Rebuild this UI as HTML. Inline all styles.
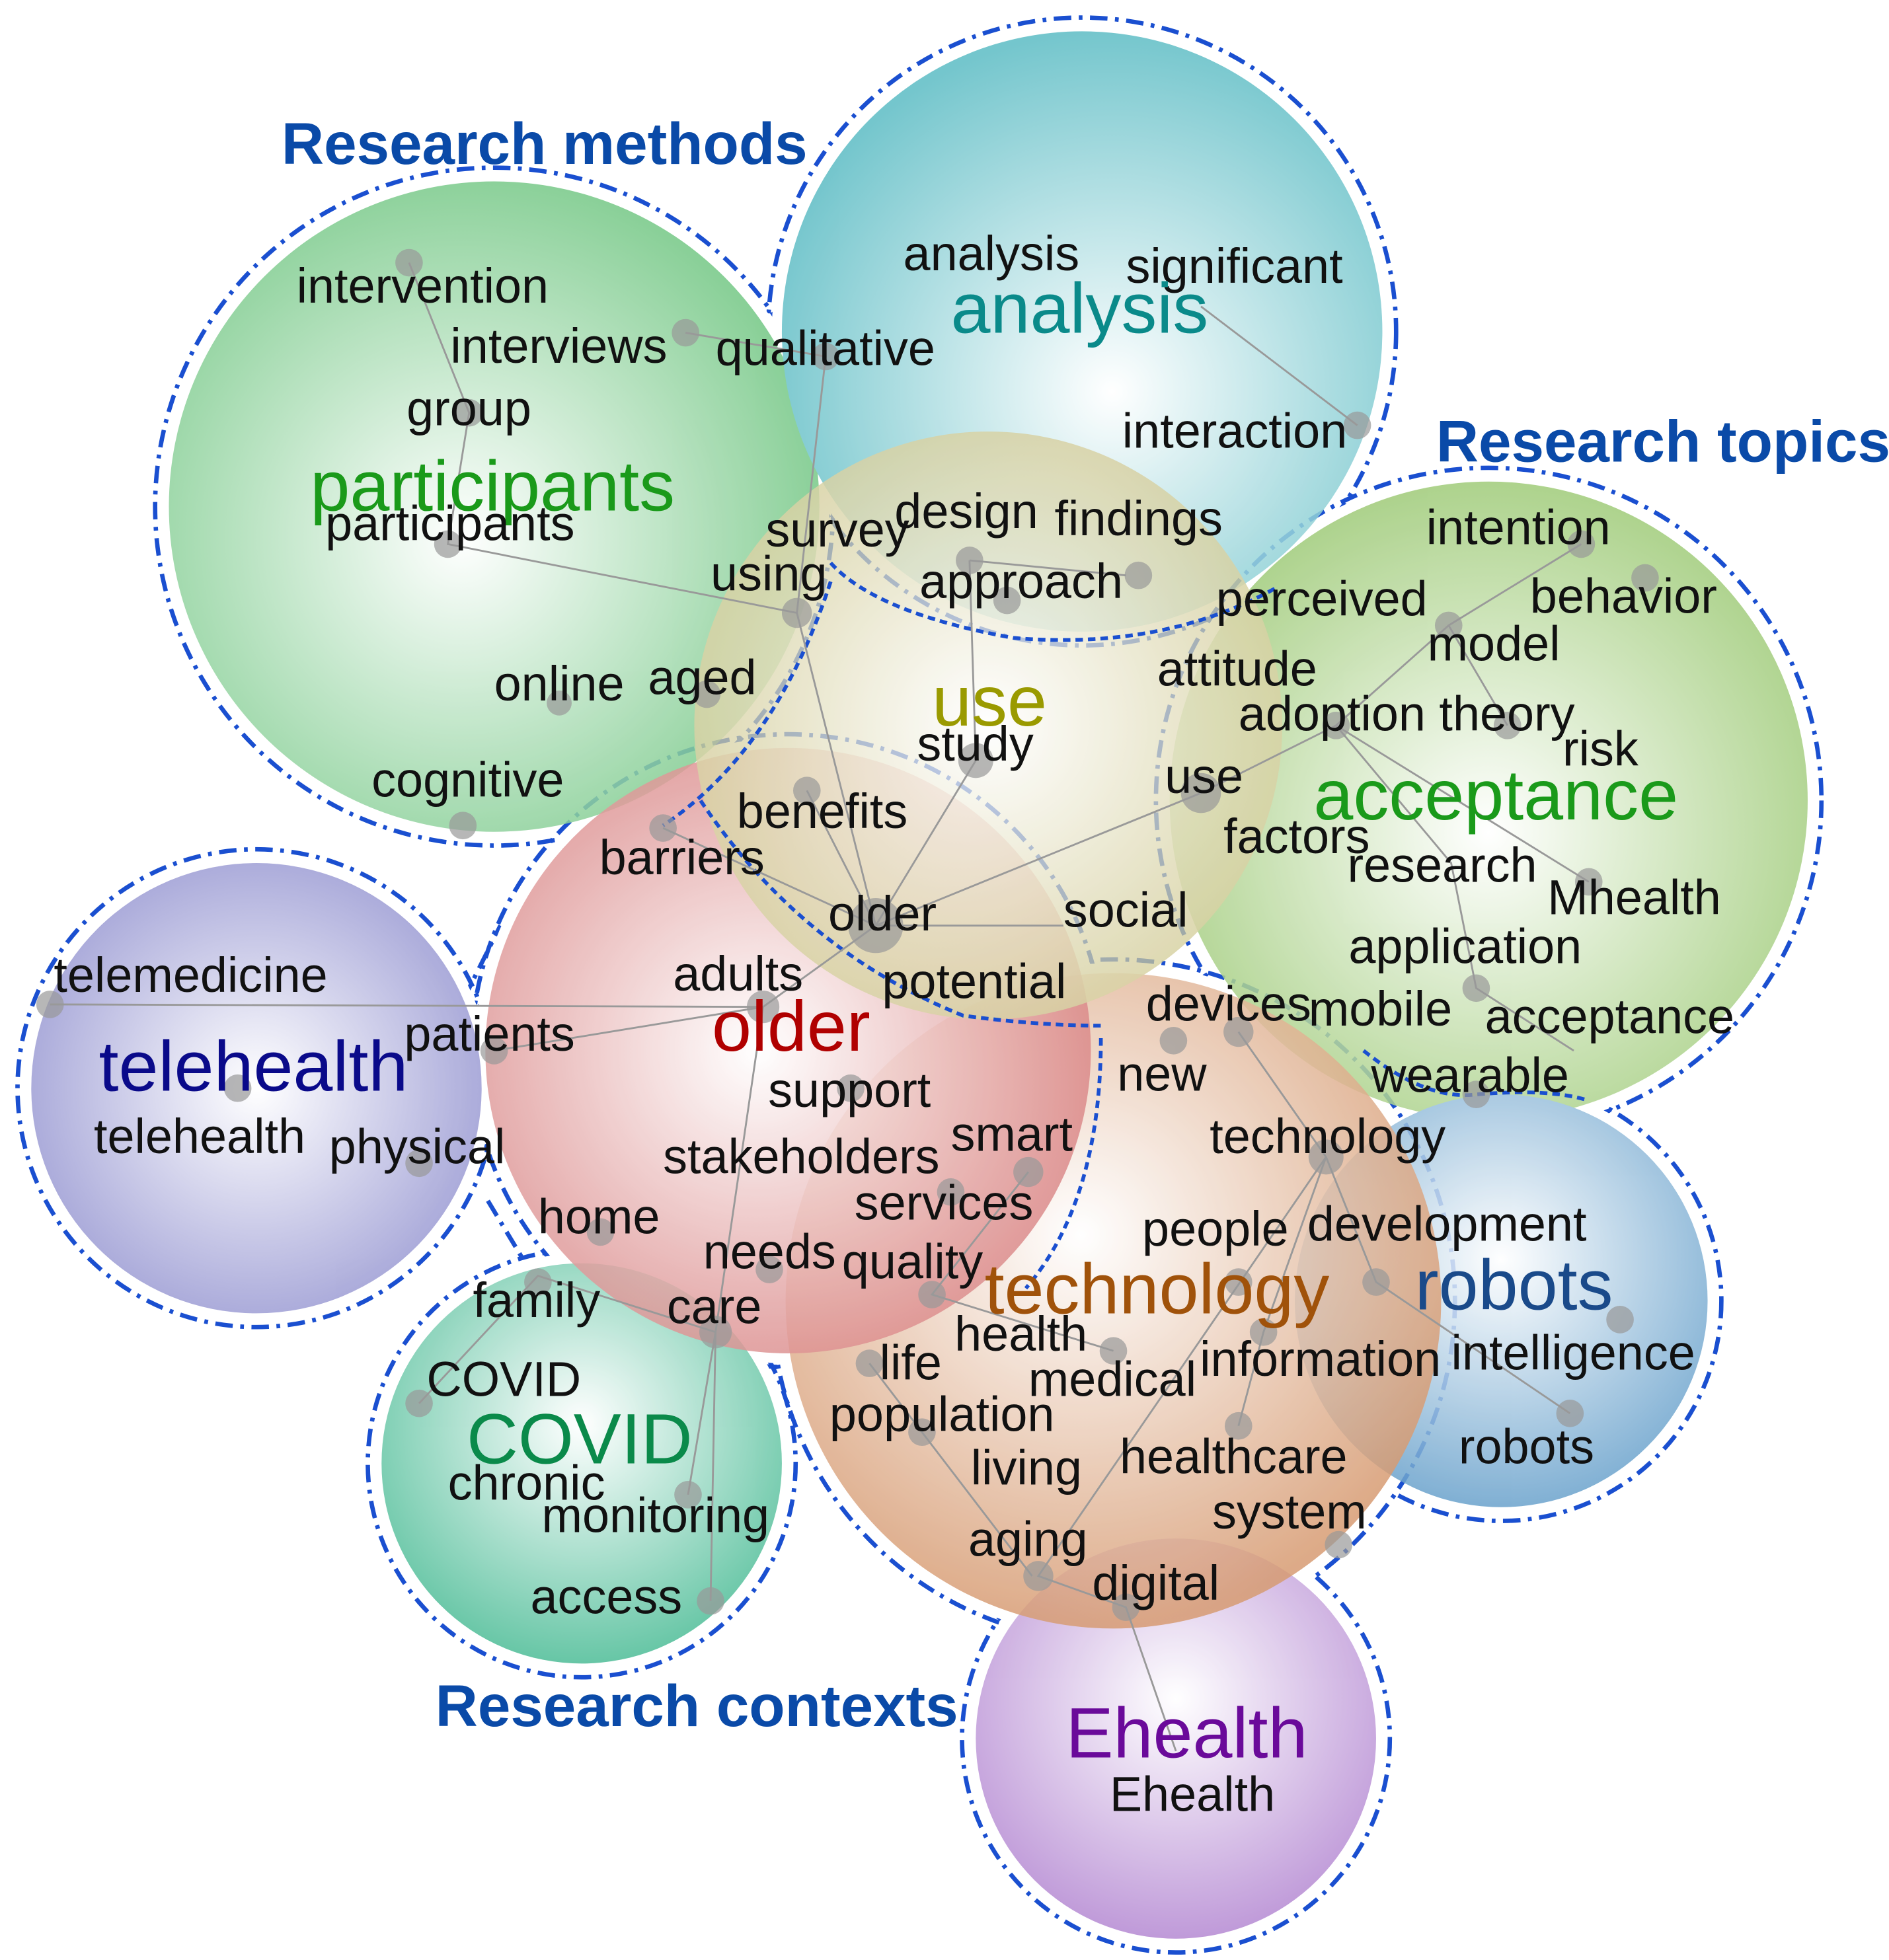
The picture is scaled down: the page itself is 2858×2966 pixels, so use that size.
<!DOCTYPE html>
<html><head><meta charset="utf-8"><style>
html,body{margin:0;padding:0;background:#fff}
svg{display:block}
text{font-family:"Liberation Sans",Arial,sans-serif;fill:#111}
.s{font-size:39px}
.b{font-size:57px}
.t{font-size:47px;font-weight:bold;fill:#0a4aa8}
</style></head><body>
<svg width="2858" height="2966" viewBox="0 0 1510 1567" xmlns="http://www.w3.org/2000/svg">
<defs>
<radialGradient id="gP" cx="0.45" cy="0.55" r="0.6"><stop offset="0" stop-color="#fff"/><stop offset="1" stop-color="#6cc47e"/></radialGradient>
<radialGradient id="gA" cx="0.55" cy="0.6" r="0.6"><stop offset="0" stop-color="#fff"/><stop offset="1" stop-color="#5cbcc4"/></radialGradient>
<radialGradient id="gU" cx="0.5" cy="0.5" r="0.6"><stop offset="0" stop-color="#fff"/><stop offset="1" stop-color="#c8c080"/></radialGradient>
<radialGradient id="gC" cx="0.5" cy="0.55" r="0.6"><stop offset="0" stop-color="#fff"/><stop offset="1" stop-color="#96c66c"/></radialGradient>
<radialGradient id="gO" cx="0.45" cy="0.5" r="0.6"><stop offset="0" stop-color="#fff"/><stop offset="1" stop-color="#d06868"/></radialGradient>
<radialGradient id="gT" cx="0.5" cy="0.5" r="0.6"><stop offset="0" stop-color="#fff"/><stop offset="1" stop-color="#8a8acc"/></radialGradient>
<radialGradient id="gX" cx="0.45" cy="0.4" r="0.6"><stop offset="0" stop-color="#fff"/><stop offset="1" stop-color="#d08a5a"/></radialGradient>
<radialGradient id="gR" cx="0.5" cy="0.4" r="0.6"><stop offset="0" stop-color="#fff"/><stop offset="1" stop-color="#6aa2cc"/></radialGradient>
<radialGradient id="gV" cx="0.5" cy="0.4" r="0.6"><stop offset="0" stop-color="#fff"/><stop offset="1" stop-color="#4cbc96"/></radialGradient>
<radialGradient id="gE" cx="0.5" cy="0.4" r="0.6"><stop offset="0" stop-color="#fff"/><stop offset="1" stop-color="#b488d2"/></radialGradient>
</defs>
<!-- group outlines: dashed halos, interior hidden by white fill -->
<g stroke="#1a4fd0" stroke-width="3.5" fill="none" stroke-dasharray="14,6,3,6">
<circle cx="395" cy="405" r="271"/><circle cx="865" cy="265" r="251"/>
</g>
<g fill="#fff"><circle cx="395" cy="405" r="268"/><circle cx="865" cy="265" r="248"/></g>
<g stroke="#1a4fd0" stroke-width="3.5" fill="none" stroke-dasharray="14,6,3,6">
<circle cx="1190" cy="640" r="266"/><circle cx="1200" cy="1040" r="176"/>
</g>
<g fill="#fff"><circle cx="1190" cy="640" r="263"/><circle cx="1200" cy="1040" r="173"/></g>
<g stroke="#1a4fd0" stroke-width="3.5" fill="none" stroke-dasharray="14,6,3,6">
<circle cx="205" cy="870" r="191"/><circle cx="630" cy="840" r="253"/><circle cx="890" cy="1040" r="273"/><circle cx="465" cy="1170" r="171"/><circle cx="940" cy="1390" r="171"/>
<path d="M370,800 L400,740 M390,960 L420,1010"/>
</g>
<g fill="#fff"><circle cx="205" cy="870" r="188"/><circle cx="630" cy="840" r="250"/><circle cx="890" cy="1040" r="270"/><circle cx="465" cy="1170" r="168"/><circle cx="940" cy="1390" r="168"/></g>
<g opacity="0.85">
<circle cx="395" cy="405" r="260" fill="url(#gP)"/>
<circle cx="865" cy="265" r="240" fill="url(#gA)"/>
<circle cx="205" cy="870" r="180" fill="url(#gT)"/>
<circle cx="1190" cy="640" r="255" fill="url(#gC)"/>
<circle cx="465" cy="1170" r="160" fill="url(#gV)"/>
<circle cx="940" cy="1390" r="160" fill="url(#gE)"/>
<circle cx="1200" cy="1040" r="165" fill="url(#gR)"/>
<circle cx="890" cy="1040" r="262" fill="url(#gX)" opacity="0.85"/>
<circle cx="630" cy="840" r="242" fill="url(#gO)" opacity="0.85"/>
<circle cx="790" cy="580" r="235" fill="url(#gU)" opacity="0.85"/>
</g>
<g stroke="#1a4fd0" stroke-width="3" fill="none" stroke-dasharray="6,4">
<path d="M664,450 Q700,490 810,510 Q930,520 1020,470"/>
<path d="M664,465 Q620,600 530,660"/>
<path d="M560,640 Q640,760 770,812 Q830,820 880,820"/>
<path d="M880,830 Q880,960 820,1030"/>
<path d="M1090,840 Q1140,880 1180,875 Q1240,870 1270,880"/>
</g>
<g stroke="#999" stroke-width="1.5" fill="none">
<path d="M327,210 L375,330 L358,435 L637,490 L660,285 L548,266"/>
<path d="M637,490 L700,740 L645,632 M700,740 L530,662 M700,740 L780,608 L775,448 M700,740 L960,634 M700,740 L850,740 M700,740 L610,805 L40,803 M610,805 L395,840 M610,805 L572,1065 L568,1280 M572,1065 L430,1020 L335,1122 M572,1065 L550,1195"/>
<path d="M960,634 L1068,580 L1158,500 L1264,435 M1158,500 L1205,580 M1068,580 L1160,690 L1180,790 L1258,840 M1068,580 L1270,705"/>
<path d="M1060,925 L990,825 M1060,925 L1100,1025 L1255,1130 M1060,925 L1010,1065 L990,1140 M1060,925 L830,1260 L900,1285 L940,1400 M890,1080 L745,1035 L822,937 M695,1090 L737,1145 L825,1260"/>
<path d="M960,245 L1085,340 M775,448 L900,460"/>
</g>
<g fill="#999" opacity="0.7">
<circle cx="327" cy="210" r="11"/><circle cx="548" cy="266" r="11"/><circle cx="660" cy="285" r="11"/><circle cx="375" cy="330" r="11"/><circle cx="358" cy="435" r="11"/><circle cx="637" cy="490" r="12"/><circle cx="447" cy="562" r="10"/><circle cx="565" cy="555" r="11"/><circle cx="370" cy="660" r="11"/><circle cx="1085" cy="340" r="11"/><circle cx="775" cy="448" r="11"/><circle cx="910" cy="460" r="11"/><circle cx="805" cy="480" r="11"/><circle cx="780" cy="608" r="14"/><circle cx="645" cy="632" r="11"/><circle cx="530" cy="662" r="11"/><circle cx="700" cy="740" r="22"/><circle cx="610" cy="805" r="13"/><circle cx="960" cy="634" r="16"/><circle cx="1158" cy="500" r="11"/><circle cx="1264" cy="435" r="11"/><circle cx="1315" cy="462" r="11"/><circle cx="1068" cy="580" r="11"/><circle cx="1205" cy="580" r="11"/><circle cx="1270" cy="705" r="11"/><circle cx="1180" cy="790" r="11"/><circle cx="1180" cy="875" r="11"/><circle cx="990" cy="825" r="12"/><circle cx="938" cy="832" r="11"/><circle cx="40" cy="803" r="11"/><circle cx="190" cy="870" r="11"/><circle cx="395" cy="840" r="11"/><circle cx="335" cy="930" r="11"/><circle cx="680" cy="870" r="11"/><circle cx="822" cy="937" r="12"/><circle cx="760" cy="953" r="11"/><circle cx="1060" cy="925" r="14"/><circle cx="480" cy="985" r="11"/><circle cx="615" cy="1015" r="11"/><circle cx="745" cy="1035" r="11"/><circle cx="990" cy="1025" r="11"/><circle cx="1100" cy="1025" r="11"/><circle cx="1295" cy="1055" r="11"/><circle cx="430" cy="1025" r="11"/><circle cx="572" cy="1065" r="13"/><circle cx="890" cy="1080" r="11"/><circle cx="695" cy="1090" r="11"/><circle cx="1010" cy="1065" r="11"/><circle cx="335" cy="1122" r="11"/><circle cx="737" cy="1145" r="11"/><circle cx="990" cy="1140" r="11"/><circle cx="1255" cy="1130" r="11"/><circle cx="550" cy="1195" r="11"/><circle cx="1070" cy="1235" r="11"/><circle cx="830" cy="1260" r="12"/><circle cx="900" cy="1285" r="11"/><circle cx="568" cy="1280" r="11"/>
</g>
<text class="t" x="225" y="131">Research methods</text>
<text class="t" x="1148" y="369">Research topics</text>
<text class="t" x="348" y="1380">Research contexts</text>
<text class="s" x="237" y="242">intervention</text>
<text class="s" x="360" y="290">interviews</text>
<text class="s" x="572" y="292">qualitative</text>
<text class="s" x="325" y="340">group</text>
<text class="b" x="248" y="408" style="fill:#1a9a1a">participants</text>
<text class="s" x="260" y="432">participants</text>
<text class="s" x="722" y="216">analysis</text>
<text class="s" x="900" y="226">significant</text>
<text class="b" x="760" y="266" style="fill:#0a8a8a">analysis</text>
<text class="s" x="897" y="358">interaction</text>
<text class="s" x="612" y="437">survey</text>
<text class="s" x="715" y="422">design</text>
<text class="s" x="843" y="428">findings</text>
<text class="s" x="568" y="472">using</text>
<text class="s" x="735" y="478">approach</text>
<text class="s" x="972" y="492">perceived</text>
<text class="s" x="1140" y="435">intention</text>
<text class="s" x="1223" y="490">behavior</text>
<text class="s" x="1141" y="528">model</text>
<text class="s" x="925" y="548">attitude</text>
<text class="s" x="395" y="560">online</text>
<text class="s" x="518" y="555">aged</text>
<text class="b" x="745" y="580" style="fill:#9a9a00">use</text>
<text class="s" x="733" y="608">study</text>
<text class="s" x="990" y="584">adoption theory</text>
<text class="s" x="1249" y="612">risk</text>
<text class="s" x="931" y="634">use</text>
<text class="b" x="1050" y="655" style="fill:#1a9a1a">acceptance</text>
<text class="s" x="297" y="637">cognitive</text>
<text class="s" x="589" y="662">benefits</text>
<text class="s" x="978" y="682">factors</text>
<text class="s" x="1077" y="705">research</text>
<text class="s" x="479" y="699">barriers</text>
<text class="s" x="1237" y="731">Mhealth</text>
<text class="s" x="662" y="744">older</text>
<text class="s" x="850" y="741">social</text>
<text class="s" x="1078" y="770">application</text>
<text class="s" x="43" y="793">telemedicine</text>
<text class="s" x="538" y="792">adults</text>
<text class="s" x="705" y="798">potential</text>
<text class="s" x="916" y="816">devices</text>
<text class="s" x="1046" y="820">mobile</text>
<text class="s" x="1187" y="826">acceptance</text>
<text class="b" x="569" y="840" style="fill:#b00000">older</text>
<text class="b" x="79" y="872" style="fill:#0a0a8a">telehealth</text>
<text class="s" x="323" y="840">patients</text>
<text class="s" x="893" y="872">new</text>
<text class="s" x="614" y="885">support</text>
<text class="s" x="1096" y="873">wearable</text>
<text class="s" x="75" y="922">telehealth</text>
<text class="s" x="263" y="930">physical</text>
<text class="s" x="760" y="920">smart</text>
<text class="s" x="967" y="922">technology</text>
<text class="s" x="530" y="938">stakeholders</text>
<text class="s" x="683" y="975">services</text>
<text class="s" x="430" y="986">home</text>
<text class="s" x="913" y="996">people</text>
<text class="s" x="1045" y="992">development</text>
<text class="s" x="562" y="1014">needs</text>
<text class="s" x="673" y="1022">quality</text>
<text class="b" x="787" y="1050" style="fill:#a0520a">technology</text>
<text class="b" x="1131" y="1047" style="fill:#1a4a8a">robots</text>
<text class="s" x="378" y="1053">family</text>
<text class="s" x="533" y="1058">care</text>
<text class="s" x="763" y="1080">health</text>
<text class="s" x="703" y="1103">life</text>
<text class="s" x="959" y="1100">information</text>
<text class="s" x="1160" y="1095">intelligence</text>
<text class="s" x="341" y="1116">COVID</text>
<text class="s" x="822" y="1116">medical</text>
<text class="s" x="663" y="1144">population</text>
<text class="b" x="373" y="1170" style="fill:#0a8a4a">COVID</text>
<text class="s" x="1166" y="1170">robots</text>
<text class="s" x="358" y="1199">chronic</text>
<text class="s" x="776" y="1187">living</text>
<text class="s" x="895" y="1178">healthcare</text>
<text class="s" x="433" y="1225">monitoring</text>
<text class="s" x="969" y="1222">system</text>
<text class="s" x="774" y="1244">aging</text>
<text class="s" x="873" y="1279">digital</text>
<text class="s" x="424" y="1290">access</text>
<text class="b" x="852" y="1405" style="fill:#6a0a9a">Ehealth</text>
<text class="s" x="887" y="1448">Ehealth</text>
</svg>
</body></html>
